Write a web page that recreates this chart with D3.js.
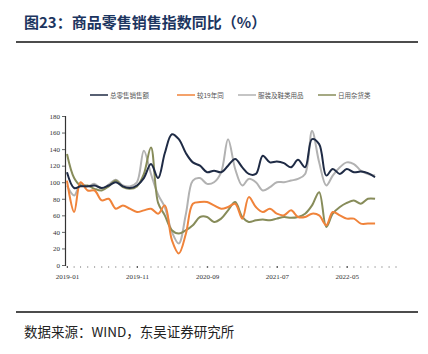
<!DOCTYPE html>
<html>
<head>
<meta charset="utf-8">
<script src="https://cdn.jsdelivr.net/npm/d3@7"></script>
<style>
  body { margin: 0; background: #fff; }
  svg { display: block; }
</style>
</head>
<body>
<div id="chart"></div>
<script>
// 数据（按月，2019-01 起）
const months = d3.timeMonth.range(new Date(2019, 0, 1), new Date(2022, 9, 1));
const seriesNames = ["总零售销售额", "较19年同", "服装及鞋类用品", "日用杂货类"];
const navyValues = [112, 93, 95, 95, 96, 93, 96, 100, 95, 93, 96, 105, 122, 105, 135, 158, 152, 135, 124, 120,
  112, 114, 112, 120, 128, 118, 110, 110, 132, 124, 125, 123, 118, 127, 118, 152, 146, 108, 116, 110,
  116, 112, 113, 111, 106];
const orangeValues = [102, 64, 100, 90, 90, 78, 80, 68, 72, 68, 64, 66, 68, 62, 72, 30, 14, 38, 74, 76,
  76, 72, 68, 70, 74, 56, 82, 70, 64, 68, 62, 60, 66, 58, 58, 62, 60, 48, 64, 60,
  56, 56, 50, 50, 50];
const greyValues = [96, 84, 98, 95, 98, 92, 97, 103, 96, 95, 100, 138, 110, 85, 70, 40, 26, 62, 102, 105,
  98, 100, 112, 152, 116, 96, 104, 100, 90, 94, 100, 100, 102, 104, 110, 162, 124, 96, 108, 118,
  124, 122, 114, 110, 108];
const oliveValues = [134, 105, 96, 96, 92, 90, 95, 102, 94, 92, 95, 110, 142, 75, 60, 42, 38, 42, 48, 58,
  58, 52, 56, 66, 76, 58, 52, 54, 55, 54, 56, 58, 57, 58, 62, 72, 88, 46, 62, 70,
  75, 78, 74, 80, 80];
const yTicks = [0, 20, 40, 60, 80, 100, 120, 140, 160, 180];
const xTickLabels = ["2019-01", "2019-11", "2020-09", "2021-07", "2022-05"];

const colors = ["#1f2b45", "#f0833a", "#b2b2b2", "#878c5a"];
const seriesValues = [navyValues, orangeValues, greyValues, oliveValues];

const W = 428, H = 354;
const svg = d3.select("#chart").append("svg").attr("width", W).attr("height", H);

// 标题
svg.append("text")
  .attr("x", 24).attr("y", 28)
  .attr("font-family", "'Noto Sans CJK SC', sans-serif")
  .attr("font-size", 15).attr("font-weight", "bold")
  .attr("fill", "#1c3560")
  .text("图23：商品零售销售指数同比（%）");

svg.append("line").attr("x1", 16).attr("x2", 418).attr("y1", 42).attr("y2", 42)
  .attr("stroke", "#111").attr("stroke-width", 1.5);
svg.append("line").attr("x1", 16).attr("x2", 418).attr("y1", 312).attr("y2", 312)
  .attr("stroke", "#111").attr("stroke-width", 1.5);

// 来源
svg.append("text")
  .attr("x", 24).attr("y", 337)
  .attr("font-family", "'Noto Sans CJK SC', sans-serif")
  .attr("font-size", 13.5)
  .attr("fill", "#222")
  .text("数据来源：WIND，东吴证券研究所");

// 比例尺
const x = d3.scaleTime()
  .domain([new Date(2019, 0, 1), new Date(2022, 11, 1)])
  .range([67, 396]);
const y = d3.scaleLinear().domain([0, 180]).range([265, 116]);

// y轴
const yAxis = svg.append("g")
  .attr("transform", "translate(65,0)")
  .call(d3.axisLeft(y).tickValues(yTicks).tickSize(3).tickPadding(2));
yAxis.select(".domain").attr("stroke", "#333").attr("stroke-width", 1.2);
yAxis.selectAll(".tick line").attr("stroke", "#666");
yAxis.selectAll("text")
  .attr("font-family", "'Liberation Serif', serif")
  .attr("font-size", 7).attr("fill", "#333");

// x轴（小刻度，无轴线）
const parseMonth = d3.timeParse("%Y-%m");
const xAxis = svg.append("g")
  .attr("transform", "translate(0,266)")
  .call(d3.axisBottom(x)
    .tickValues(xTickLabels.map(parseMonth))
    .tickFormat(d3.timeFormat("%Y-%m"))
    .tickSize(2).tickPadding(6));
xAxis.select(".domain").remove();
xAxis.selectAll(".tick line").attr("stroke", "#333");
xAxis.selectAll("text")
  .attr("font-family", "'Liberation Serif', serif")
  .attr("font-size", 7).attr("fill", "#333");

svg.append("g")
  .selectAll("line")
  .data(d3.timeMonth.range(new Date(2019, 0, 1), new Date(2023, 0, 1)))
  .enter()
  .append("line")
  .attr("x1", d => x(d)).attr("x2", d => x(d))
  .attr("y1", 266).attr("y2", 268)
  .attr("stroke", "#999").attr("stroke-width", 0.8);

// 折线
const line = d3.line()
  .x((d, i) => x(months[i]))
  .y(d => y(d))
  .curve(d3.curveCatmullRom.alpha(0.5));

const drawOrder = [2, 3, 1, 0];
drawOrder.forEach(k => {
  svg.append("path")
    .datum(seriesValues[k])
    .attr("fill", "none")
    .attr("stroke", colors[k])
    .attr("stroke-width", 2)
    .attr("stroke-linejoin", "round")
    .attr("d", line);
});

// 图例
const legendX = [90, 177, 238, 318];
const legend = svg.append("g");
seriesNames.forEach((name, i) => {
  legend.append("line")
    .attr("x1", legendX[i]).attr("x2", legendX[i] + 18)
    .attr("y1", 95).attr("y2", 95)
    .attr("stroke", colors[i]).attr("stroke-width", 1.5);
  legend.append("text")
    .attr("x", legendX[i] + 20).attr("y", 97.5)
    .attr("font-family", "'Noto Sans CJK SC', sans-serif")
    .attr("font-size", 6.5).attr("fill", "#555")
    .text(name);
});
</script>
</body>
</html>
